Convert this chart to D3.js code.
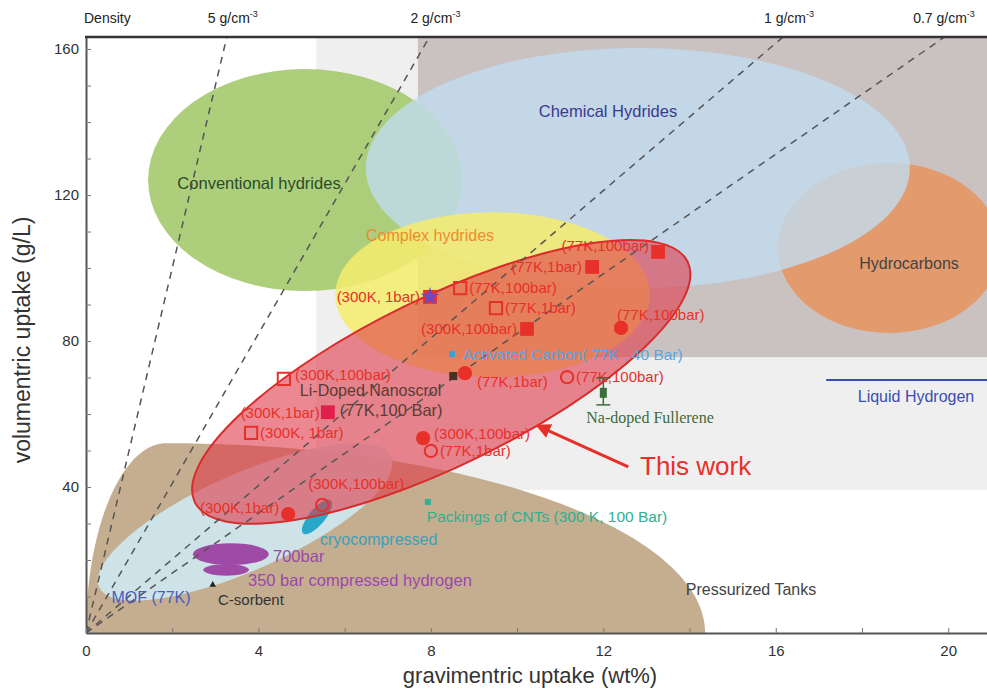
<!DOCTYPE html>
<html>
<head>
<meta charset="utf-8">
<script src="https://cdnjs.cloudflare.com/ajax/libs/d3/7.8.5/d3.min.js"></script>
<style>
  body { margin: 0; background: #fff; }
  text { font-family: "Liberation Sans", Arial, sans-serif; }
</style>
</head>
<body>
<svg id="chart"></svg>
<script>
// density guide lines: volumetric (g/L) per wt%
var densityNames = ["5", "2", "1", "0.7"];
var densitySlopes = [50, 20.5, 10.1, 8.2];

// target boxes (wt%, g/L)
var boxX0 = [5.34, 7.7];
var boxY0 = [39.2, 75.6];

// material zones (ellipses)
var zoneNames = ["Conventional hydrides", "Hydrocarbons", "Chemical Hydrides", "Complex hydrides"];
var zoneCx = [5.08, 18.63, 12.8, 9.43];
var zoneCy = [124.1, 105.5, 127.4, 92.7];
var zoneRx = [3.64, 2.58, 6.31, 3.65];
var zoneRy = [30.4, 23.3, 32.9, 22.6];

// tilted zones: MOF (77K), this work, cryocompressed
var tiltCx = [3.69, 8.24, 5.36];
var tiltCy = [30.4, 68.8, 31.8];
var tiltRx = [3.71, 6.36, 0.5];
var tiltRy = [13.2, 23.0, 2.2];
var tiltAngle = [-24, -26, -50];

// pressurized tanks hump
var tankCx = 1.86, tankRxLeft = 1.86, tankRxRight = 12.5, tankTop = 52;

// compressed hydrogen blobs (700 bar, 350 bar)
var blobCx = [3.36, 3.25];
var blobCy = [21.6, 17.3];
var blobRx = [0.88, 0.53];
var blobRy = [3.0, 1.6];

// this work points
var workX = [13.27, 11.74, 10.23, 7.98, 8.68, 9.51, 4.59, 3.83, 12.41, 8.79, 7.82, 4.69, 11.16, 8.00, 5.48];
var workY = [104.4, 100.3, 83.3, 92.1, 94.5, 89.0, 69.6, 54.8, 83.6, 71.2, 53.4, 32.6, 70.1, 49.9, 35.1];
var workShape = ["sq", "sq", "sq", "sq", "osq", "osq", "osq", "osq", "ci", "ci", "ci", "ci", "oci", "oci", "oci"];
var workLabel = ["(77K,100bar)", "(77K,1bar)", "(300K,100bar)", "(300K, 1bar)",
                 "(77K,100bar)", "(77K,1bar)", "(300K,100bar)", "(300K, 1bar)",
                 "(77K,100bar)", "(77K,1bar)", "(300K,100bar)", "(300K,1bar)",
                 "(77K,100bar)", "(77K,1bar)", "(300K,100bar)"];
var workSide = ["LU", "L", "L", "L", "R", "R", "RU", "R", "UR", "DR", "RU", "LU", "R", "R", "U"];

// other materials
var liDopedX = 5.61, liDopedY = 60.5;
var carbonX = 8.49, carbonY = 76.4;
var scrollX = 8.52, scrollY = 70.4;
var cntX = 7.93, cntY = 35.9;
var fullereneX = 12.0, fullereneY = 65.8, fullereneLo = 62.5, fullereneHi = 69.9;
var sorbentX = 2.94, sorbentY = 13.2;
var liquidH2Y = 69.3, liquidH2X0 = 17.17;

var W = 987, H = 689;
var x = d3.scaleLinear().domain([0, 20.9]).range([86, 987]);
var y = d3.scaleLinear().domain([0, 163.3]).range([633, 37]);
var kx = x(1) - x(0), ky = y(0) - y(1);

var svg = d3.select("#chart").attr("width", W).attr("height", H);

svg.append("defs").append("clipPath").attr("id", "plot")
  .append("rect").attr("x", x(0)).attr("y", y(163.3))
  .attr("width", x(20.9) - x(0)).attr("height", y(0) - y(163.3));
svg.select("defs").append("marker")
  .attr("id", "arrow").attr("viewBox", "0 0 10 10").attr("refX", 8).attr("refY", 5)
  .attr("markerWidth", 5).attr("markerHeight", 5).attr("orient", "auto")
  .append("path").attr("d", "M0,0L10,5L0,10z").attr("fill", "#e8302a");

var g = svg.append("g").attr("clip-path", "url(#plot)");

// background boxes
var boxFill = ["#efefef", "#cac2c1"];
g.selectAll(".box").data(boxX0).enter().append("rect")
  .attr("x", function(d) { return x(d); })
  .attr("y", y(163.3))
  .attr("width", function(d) { return x(20.9) - x(d); })
  .attr("height", function(d, i) { return y(boxY0[i]) - y(163.3); })
  .attr("fill", function(d, i) { return boxFill[i]; });

// pressurized tanks
var tankPts = [];
d3.range(0, 91).forEach(function(a) {
  var t = a * Math.PI / 180;
  tankPts.push([tankCx - tankRxLeft * Math.cos(t), tankTop * Math.sin(t)]);
});
d3.range(90, -1, -1).forEach(function(a) {
  var t = a * Math.PI / 180;
  tankPts.push([tankCx + tankRxRight * Math.cos(t), tankTop * Math.sin(t)]);
});
g.append("path")
  .attr("d", d3.line().x(function(d) { return x(d[0]); }).y(function(d) { return y(d[1]); })(tankPts) + "Z")
  .attr("fill", "#c5ae90");

// MOF ellipse
function tilted(i, fill, op) {
  return g.append("ellipse")
    .attr("transform", "translate(" + x(tiltCx[i]) + "," + y(tiltCy[i]) + ") rotate(" + tiltAngle[i] + ")")
    .attr("rx", tiltRx[i] * kx).attr("ry", tiltRy[i] * ky)
    .attr("fill", fill).attr("fill-opacity", op);
}
tilted(0, "#cde6ec", 0.95);

// material zones
var zoneFill = ["#a6cb70", "#e39a6c", "#c0dcf0", "#f5ec6c"];
var zoneOp = [0.92, 1, 0.8, 0.85];
g.selectAll(".zone").data(zoneNames).enter().append("ellipse")
  .attr("cx", function(d, i) { return x(zoneCx[i]); })
  .attr("cy", function(d, i) { return y(zoneCy[i]); })
  .attr("rx", function(d, i) { return zoneRx[i] * kx; })
  .attr("ry", function(d, i) { return zoneRy[i] * ky; })
  .attr("fill", function(d, i) { return zoneFill[i]; })
  .attr("fill-opacity", function(d, i) { return zoneOp[i]; });

// compressed hydrogen blobs
g.selectAll(".blob").data(blobCx).enter().append("ellipse")
  .attr("cx", function(d) { return x(d); })
  .attr("cy", function(d, i) { return y(blobCy[i]); })
  .attr("rx", function(d, i) { return blobRx[i] * kx; })
  .attr("ry", function(d, i) { return blobRy[i] * ky; })
  .attr("fill", "#a04aa8");

// cryocompressed
tilted(2, "#28a8c8", 1);

// this work zone
tilted(1, "#e03848", 0.6).attr("stroke", "#d82c2c").attr("stroke-width", 2);

// density lines
g.selectAll(".dens").data(densitySlopes).enter().append("line")
  .attr("x1", x(0)).attr("y1", y(0))
  .attr("x2", function(d) { return x(163.3 / d); })
  .attr("y2", y(163.3))
  .attr("stroke", "#555").attr("stroke-width", 1.5).attr("stroke-dasharray", "7,6");

// axes
var yAxis = d3.axisLeft(y).tickValues(d3.range(0, 161, 10)).tickSizeInner(-5).tickSizeOuter(0).tickPadding(7)
  .tickFormat(function(d) { return d > 0 && d % 40 === 0 ? d : ""; });
var xAxis = d3.axisBottom(x).tickValues(d3.range(0, 21, 2)).tickSizeInner(-5).tickSizeOuter(0).tickPadding(12)
  .tickFormat(function(d) { return d % 4 === 0 ? d : ""; });
var ya = svg.append("g").attr("transform", "translate(" + x(0) + ",0)").call(yAxis);
var xa = svg.append("g").attr("transform", "translate(0," + y(0) + ")").call(xAxis);
[ya, xa].forEach(function(a) {
  a.select(".domain").attr("stroke", "#555").attr("stroke-width", 2);
  a.selectAll(".tick line").attr("stroke", "#777");
  a.selectAll("text").attr("font-size", 15).attr("fill", "#333")
    .style("font-family", "'Liberation Sans', Arial, sans-serif");
});
svg.append("line").attr("x1", x(0) - 1).attr("x2", W).attr("y1", y(163.3)).attr("y2", y(163.3))
  .attr("stroke", "#333").attr("stroke-width", 2.5);

svg.append("text").attr("x", 530).attr("y", 683).attr("text-anchor", "middle")
  .attr("font-size", 22).attr("fill", "#333").text("gravimentric uptake (wt%)");
svg.append("text").attr("transform", "translate(30," + 340 + ") rotate(-90)").attr("text-anchor", "middle")
  .attr("font-size", 23).attr("fill", "#333").text("volumentric uptake (g/L)");

// density labels
var narrow = "'Liberation Sans Narrow', 'Liberation Sans', Arial, sans-serif";
svg.append("text").attr("x", 84).attr("y", 23).attr("font-size", 14).style("font-family", narrow)
  .attr("fill", "#222").text("Density");
var dl = svg.selectAll(".dl").data(densityNames).enter().append("text")
  .attr("x", function(d, i) { return Math.min(x(163.3 / densitySlopes[i]) + 6, 944); })
  .attr("y", 23).attr("text-anchor", "middle").attr("font-size", 14).style("font-family", narrow)
  .attr("fill", "#222");
dl.append("tspan").text(function(d) { return d + " g/cm"; });
dl.append("tspan").attr("font-size", 9).attr("dy", -6).text("-3");

// zone labels
function label(tx, ty, str, size, col, anchor, fam) {
  var t = svg.append("text").attr("x", tx).attr("y", ty).attr("font-size", size).attr("fill", col)
    .attr("text-anchor", anchor || "start").attr("dy", "0.35em").text(str);
  if (fam) t.style("font-family", fam);
  return t;
}
label(259, 183, zoneNames[0], 16.5, "#2c4a2c", "middle");
label(909, 263, zoneNames[1], 16, "#444", "middle");
label(608, 111, zoneNames[2], 16.5, "#3a3a90", "middle");
label(430, 235, zoneNames[3], 16, "#f08a30", "middle");
label(751, 589, "Pressurized Tanks", 16, "#444", "middle");
label(151, 597, "MOF (77K)", 16, "#4a5cc0", "middle");
label(218, 600, "C-sorbent", 15, "#333");
label(273, 556, "700bar", 16.5, "#9a48a8");
label(248, 580, "350 bar compressed hydrogen", 16.5, "#9a48a8");
label(320, 539, "cryocompressed", 16, "#3aa0b8");

// this work markers
var red = "#e8302a";
var sym = {
  sq: d3.symbol().type(d3.symbolSquare).size(190)(),
  osq: d3.symbol().type(d3.symbolSquare).size(150)(),
  ci: d3.symbol().type(d3.symbolCircle).size(160)(),
  oci: d3.symbol().type(d3.symbolCircle).size(120)()
};
var pts = svg.append("g");
pts.selectAll("path").data(workX).enter().append("path")
  .attr("transform", function(d, i) { return "translate(" + x(d) + "," + y(workY[i]) + ")"; })
  .attr("d", function(d, i) { return sym[workShape[i]]; })
  .attr("fill", function(d, i) { return workShape[i].charAt(0) === "o" ? "none" : red; })
  .attr("stroke", red)
  .attr("stroke-width", function(d, i) { return workShape[i].charAt(0) === "o" ? 2 : 0; });

var side = {
  L: [-10, 0, "end"], LU: [-9, -6, "end"], R: [9, 0, "start"], RU: [11, -4, "start"],
  UR: [-4, -13, "start"], DR: [12, 9, "start"], U: [-14, -21, "start"]
};
pts.selectAll("text").data(workLabel).enter().append("text")
  .attr("x", function(d, i) { return x(workX[i]) + side[workSide[i]][0]; })
  .attr("y", function(d, i) { return y(workY[i]) + side[workSide[i]][1]; })
  .attr("text-anchor", function(d, i) { return side[workSide[i]][2]; })
  .attr("dy", "0.35em").attr("font-size", 15).attr("fill", red)
  .text(function(d) { return d; });

// star on (300K, 1bar)
pts.append("path").attr("transform", "translate(" + x(workX[3]) + "," + y(workY[3]) + ")")
  .attr("d", d3.symbol().type(d3.symbolStar).size(110)()).attr("fill", "#7048c0");

// Li-doped nanoscroll
pts.append("path").attr("transform", "translate(" + x(liDopedX) + "," + y(liDopedY) + ")")
  .attr("d", sym.sq).attr("fill", "#e0204a");
label(x(liDopedX) - 8, y(liDopedY) + 1, "(300K,1bar)", 15, red, "end");
label(x(liDopedX) + 12, y(liDopedY) - 2, "(77K,100 Bar)", 16.5, "#5a3c34");
label(x(liDopedX) - 28, y(liDopedY) - 22, "Li-Doped Nanoscrol", 16, "#5a3c34");
pts.append("rect").attr("x", x(scrollX) - 4).attr("y", y(scrollY) - 4).attr("width", 8).attr("height", 8)
  .attr("fill", "#4a3020");

// activated carbon
pts.append("rect").attr("x", x(carbonX) - 3).attr("y", y(carbonY) - 3).attr("width", 6).attr("height", 6)
  .attr("fill", "#3aa0d8");
label(x(carbonX) + 11, y(carbonY), "Activated Carbon( 77K , 40 Bar)", 15.5, "#5aa5e0");

// packings of CNTs
pts.append("rect").attr("x", x(cntX) - 3).attr("y", y(cntY) - 3).attr("width", 6).attr("height", 6)
  .attr("fill", "#30b090");
label(x(cntX) - 1, y(cntY) + 15, "Packings of CNTs (300 K, 100 Bar)", 15.5, "#30b090");

// Na-doped fullerene
var fg = pts.append("g").attr("stroke", "#3a6e3a").attr("stroke-width", 1.5);
fg.append("line").attr("x1", x(fullereneX)).attr("x2", x(fullereneX)).attr("y1", y(fullereneLo)).attr("y2", y(fullereneHi));
[fullereneLo, fullereneHi].forEach(function(v) {
  fg.append("line").attr("x1", x(fullereneX) - 7).attr("x2", x(fullereneX) + 7).attr("y1", y(v)).attr("y2", y(v));
});
pts.append("rect").attr("x", x(fullereneX) - 3.5).attr("y", y(fullereneY) - 5).attr("width", 7).attr("height", 10)
  .attr("fill", "#3a6e3a");
label(x(fullereneX) - 17, y(fullereneY) + 25, "Na-doped Fullerene", 16, "#3d6b3a", "start",
  "'Liberation Serif', 'DejaVu Serif', serif");

// C-sorbent
pts.append("path").attr("transform", "translate(" + x(sorbentX) + "," + y(sorbentY) + ")")
  .attr("d", d3.symbol().type(d3.symbolTriangle).size(18)()).attr("fill", "#222");

// liquid hydrogen
svg.append("line").attr("x1", x(liquidH2X0)).attr("x2", x(20.9)).attr("y1", y(liquidH2Y)).attr("y2", y(liquidH2Y))
  .attr("stroke", "#3a4eb8").attr("stroke-width", 2);
label(916, 396, "Liquid Hydrogen", 16, "#3a4eb0", "middle");

// this work callout
svg.append("line").attr("x1", x(12.58)).attr("y1", y(45.5)).attr("x2", x(10.49)).attr("y2", y(56.7))
  .attr("stroke", red).attr("stroke-width", 3).attr("marker-end", "url(#arrow)");
label(640, 466, "This work", 26, red);
</script>
</body>
</html>
